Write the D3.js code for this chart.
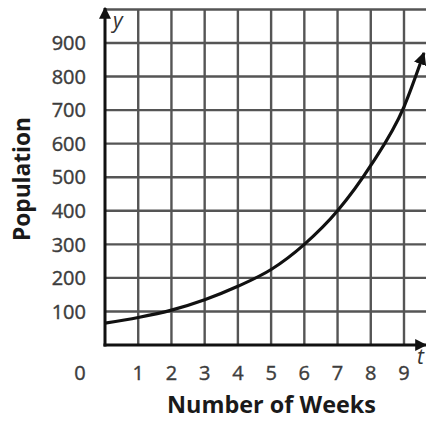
<!DOCTYPE html>
<html><head><meta charset="utf-8">
<script src="https://cdn.jsdelivr.net/npm/d3@7"></script>
<style>body{margin:0;background:#fff}</style>
</head><body>
<script>
const weeks = [0, 1, 2, 3, 4, 5, 6, 7, 8, 9, 9.6];
const population = [65, 82, 104, 135, 175, 225, 300, 400, 535, 710, 870];
const xTicks = [1, 2, 3, 4, 5, 6, 7, 8, 9];
const yTicks = [100, 200, 300, 400, 500, 600, 700, 800, 900];

const W = 426, H = 421;
const svg = d3.select("body").append("svg").attr("width", W).attr("height", H);
const x = d3.scaleLinear().domain([0, 9]).range([105, 404]);
const y = d3.scaleLinear().domain([0, 900]).range([345, 43]);
const font = "'Open Sans','Noto Sans',sans-serif";

const defs = svg.append("defs");
defs.append("marker").attr("id", "ah").attr("viewBox", "0 0 10 10").attr("refX", 9).attr("refY", 5)
  .attr("markerWidth", 4).attr("markerHeight", 4.5).attr("orient", "auto").attr("markerUnits", "strokeWidth")
  .append("path").attr("d", "M0,0 L10,5 L0,10 Z").attr("fill", "#111");

// grid
const g = svg.append("g").attr("stroke", "#555").attr("stroke-width", 2.4);
const gridX = d3.range(1, 11);
g.selectAll("line.v").data(gridX).enter().append("line")
  .attr("x1", d => x(d)).attr("x2", d => x(d)).attr("y1", y(1000)).attr("y2", y(0));
g.selectAll("line.h").data(yTicks.concat([1000])).enter().append("line")
  .attr("x1", x(0)).attr("x2", W).attr("y1", d => y(d)).attr("y2", d => y(d));

// axes
svg.append("line").attr("x1", x(0)).attr("x2", x(0)).attr("y1", y(0) + 1.5).attr("y2", 8)
  .attr("stroke", "#111").attr("stroke-width", 3).attr("marker-end", "url(#ah)");
svg.append("line").attr("x1", x(0) - 1.5).attr("x2", 426).attr("y1", y(0)).attr("y2", y(0))
  .attr("stroke", "#111").attr("stroke-width", 3).attr("marker-end", "url(#ah)");

// curve
const line = d3.line().x((d, i) => x(weeks[i])).y(d => y(d)).curve(d3.curveMonotoneX);
svg.append("path").attr("d", line(population)).attr("fill", "none")
  .attr("stroke", "#111").attr("stroke-width", 3.2).attr("marker-end", "url(#ah)");

// tick labels
const tickFill = "#3c3c3c";
svg.selectAll("text.yt").data(yTicks).enter().append("text")
  .attr("x", 86).attr("y", d => y(d)).attr("dy", "0.36em").attr("text-anchor", "end")
  .attr("font-family", font).attr("font-size", 20).attr("fill", tickFill)
  .attr("stroke", tickFill).attr("stroke-width", 0.4).text(d => d);
svg.selectAll("text.xt").data(xTicks).enter().append("text")
  .attr("x", d => x(d)).attr("y", 380).attr("text-anchor", "middle")
  .attr("font-family", font).attr("font-size", 20).attr("fill", tickFill)
  .attr("stroke", tickFill).attr("stroke-width", 0.4).text(d => d);
svg.append("text").attr("x", 80).attr("y", 380).attr("text-anchor", "middle")
  .attr("font-family", font).attr("font-size", 20).attr("fill", tickFill)
  .attr("stroke", tickFill).attr("stroke-width", 0.4).text("0");

// axis letters
svg.append("text").attr("x", 113).attr("y", 28).attr("font-family", font).attr("font-style", "italic")
  .attr("font-size", 21).attr("fill", "#333").text("y");
svg.append("text").attr("x", 417).attr("y", 364).attr("font-family", font).attr("font-style", "italic")
  .attr("font-size", 21).attr("fill", "#333").text("t");

// titles
svg.append("text").attr("x", 167).attr("y", 413).attr("font-family", font).attr("font-weight", "bold")
  .attr("font-size", 23).attr("fill", "#1a1a1a").attr("textLength", 209).attr("lengthAdjust", "spacingAndGlyphs")
  .text("Number of Weeks");
svg.append("text").attr("transform", "translate(30,241) rotate(-90)").attr("font-family", font)
  .attr("font-weight", "bold").attr("font-size", 24).attr("fill", "#1a1a1a")
  .attr("textLength", 124).attr("lengthAdjust", "spacingAndGlyphs").text("Population");
</script>
</body></html>
